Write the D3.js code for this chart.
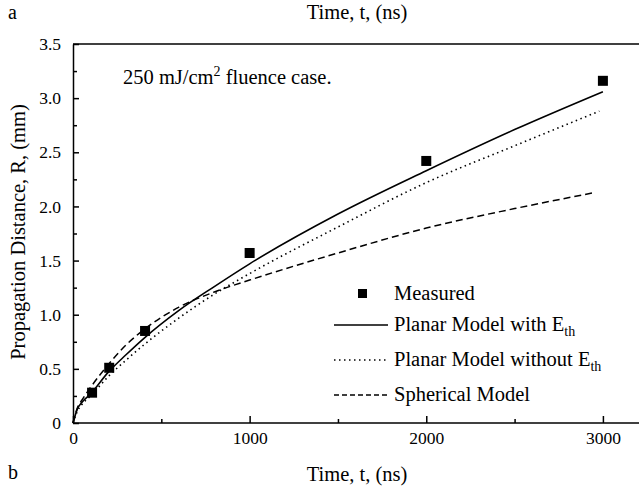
<!DOCTYPE html>
<html>
<head>
<meta charset="utf-8">
<script src="https://d3js.org/d3.v7.min.js"></script>
<style>
  body { margin: 0; background: #fff; }
  svg { font-family: "Liberation Serif", "Times New Roman", serif; }
  .axis path, .axis line { stroke: #000; stroke-width: 1.5; }
  .axis text { font-size: 17.5px; fill: #000; font-family: "Liberation Serif", serif; }
</style>
</head>
<body>
<div id="chart"></div>
<script>
// measured points
const measT = [108, 205, 408, 1000, 2000, 3000];
const measR = [0.28, 0.51, 0.85, 1.57, 2.42, 3.16];

// planar model with E_th (solid)
const withT = [0, 25, 50, 100, 200, 300, 400, 600, 800, 1000, 1500, 2000, 2500, 3000];
const withR = [0, 0.13, 0.19, 0.27, 0.47, 0.63, 0.78, 1.04, 1.26, 1.47, 1.93, 2.33, 2.71, 3.06];

// planar model without E_th (dotted)
const withoutT = [0, 25, 50, 100, 200, 300, 400, 600, 800, 1000, 1500, 2000, 2500, 2980];
const withoutR = [0, 0.11, 0.17, 0.25, 0.43, 0.58, 0.72, 0.97, 1.19, 1.38, 1.81, 2.22, 2.56, 2.88];

// spherical model (dashed)
const spherT = [0, 25, 50, 100, 200, 300, 400, 600, 800, 1000, 1500, 2000, 2500, 2960];
const spherR = [0, 0.14, 0.21, 0.33, 0.54, 0.72, 0.86, 1.07, 1.21, 1.32, 1.57, 1.80, 1.98, 2.13];

const xMajor = [0, 1000, 2000, 3000];
const xMinor = [500, 1500, 2500];
const yMajor = [0, 0.5, 1.0, 1.5, 2.0, 2.5, 3.0, 3.5];
const yMinor = [0.25, 0.75, 1.25, 1.75, 2.25, 2.75, 3.25];

const width = 639, height = 490;
const svg = d3.select("#chart").append("svg")
  .attr("width", width).attr("height", height);

const x = d3.scaleLinear().domain([0, 3210]).range([73, 640]);
const y = d3.scaleLinear().domain([0, 3.5]).range([423, 44]);

// bottom axis
svg.append("g").attr("class", "axis")
  .attr("transform", `translate(0,${y(0)})`)
  .call(d3.axisBottom(x).tickValues(xMajor).tickSizeInner(-7).tickSizeOuter(0).tickPadding(9)
    .tickFormat(d3.format("d")))
  .call(g => g.select(".domain").attr("d", `M${x(0)},0H${width + 2}`));
svg.append("g").attr("class", "axis")
  .attr("transform", `translate(0,${y(0)})`)
  .call(d3.axisBottom(x).tickValues(xMinor).tickSizeInner(-4).tickSizeOuter(0).tickFormat(""))
  .call(g => g.select(".domain").remove());

// top frame line
svg.append("line")
  .attr("x1", x(0)).attr("x2", width + 2)
  .attr("y1", y(3.5)).attr("y2", y(3.5))
  .attr("stroke", "#000").attr("stroke-width", 1.5);

// left axis
svg.append("g").attr("class", "axis")
  .attr("transform", `translate(${x(0)},0)`)
  .call(d3.axisLeft(y).tickValues(yMajor).tickSizeInner(-6).tickSizeOuter(0).tickPadding(12)
    .tickFormat(d => d === 0 ? "0" : d3.format(".1f")(d)));
svg.append("g").attr("class", "axis")
  .attr("transform", `translate(${x(0)},0)`)
  .call(d3.axisLeft(y).tickValues(yMinor).tickSizeInner(-4).tickSizeOuter(0).tickFormat(""))
  .call(g => g.select(".domain").remove());

// curves
const line = d3.line().x(d => x(d[0])).y(d => y(d[1])).curve(d3.curveMonotoneX);
const series = [
  { t: withT, r: withR, dash: null, w: 1.6 },
  { t: withoutT, r: withoutR, dash: "1.5,3.5", w: 1.6 },
  { t: spherT, r: spherR, dash: "7,4", w: 1.5 }
];
series.forEach(s => {
  svg.append("path")
    .datum(s.t.map((t, i) => [t, s.r[i]]))
    .attr("fill", "none")
    .attr("stroke", "#000")
    .attr("stroke-width", s.w)
    .attr("stroke-dasharray", s.dash)
    .attr("d", line);
});

// measured markers
svg.append("g").selectAll("rect")
  .data(measT.map((t, i) => [t, measR[i]]))
  .enter().append("rect")
  .attr("x", d => x(d[0]) - 5)
  .attr("y", d => y(d[1]) - 5)
  .attr("width", 10).attr("height", 10)
  .attr("fill", "#000");

// legend
const legend = svg.append("g").attr("font-size", 20.5);
legend.append("rect").attr("x", 358).attr("y", 289).attr("width", 9).attr("height", 9).attr("fill", "#000");
legend.append("text").attr("x", 394).attr("y", 300).text("Measured");

const legRows = [
  { y: 325, dash: null, label: "Planar Model with E" },
  { y: 360, dash: "1.5,3.5", label: "Planar Model without E" },
  { y: 395, dash: "5,3", label: "Spherical Model" }
];
legRows.forEach((r, i) => {
  legend.append("line")
    .attr("x1", 334).attr("x2", 388)
    .attr("y1", r.y).attr("y2", r.y)
    .attr("stroke", "#000").attr("stroke-width", 1.5)
    .attr("stroke-dasharray", r.dash);
  const t = legend.append("text").attr("x", 394).attr("y", r.y + 6).text(r.label);
  if (i < 2) {
    t.append("tspan").attr("font-size", 14).attr("dy", 5).text("th");
  }
});

// annotation
const ann = svg.append("text").attr("x", 123).attr("y", 84).attr("font-size", 20.5).text("250 mJ/cm");
ann.append("tspan").attr("font-size", 14).attr("dy", -8).text("2");
ann.append("tspan").attr("dy", 8).text(" fluence case.");

// axis titles
svg.append("text").attr("x", 357).attr("y", 19).attr("text-anchor", "middle")
  .attr("font-size", 20.5).text("Time, t, (ns)");
svg.append("text").attr("x", 357).attr("y", 481).attr("text-anchor", "middle")
  .attr("font-size", 20.5).text("Time, t, (ns)");
svg.append("text")
  .attr("transform", "translate(25,232) rotate(-90)")
  .attr("text-anchor", "middle").attr("font-size", 20.5)
  .text("Propagation Distance, R, (mm)");

// panel letters
svg.append("text").attr("x", 8).attr("y", 19).attr("font-size", 20).text("a");
svg.append("text").attr("x", 8).attr("y", 479).attr("font-size", 20).text("b");
</script>
</body>
</html>
